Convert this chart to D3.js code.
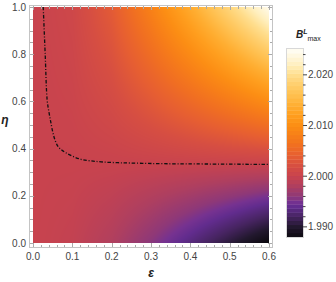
<!DOCTYPE html>
<html>
<head>
<meta charset="utf-8">
<style>
body { margin: 0; background: #fff; }
svg { display: block; }
text { font-family: "Liberation Sans", Arial, sans-serif; }
</style>
</head>
<body>
<svg width="336" height="282"></svg>
<script src="https://cdn.jsdelivr.net/npm/d3@7/dist/d3.min.js"></script>
<script>

// grid: rows = eta, columns = epsilon
var epsVals = [0, 0.1, 0.2, 0.3, 0.4, 0.5, 0.6];
var etaVals = [0, 0.1, 0.2, 0.3, 0.4, 0.5, 0.6, 0.7, 0.8, 0.9, 1.0];
var bGrid = [
  [2.0000, 1.99960, 1.99820, 1.99580, 1.99320, 1.99050, 1.98775],
  [2.0000, 1.99972, 1.99874, 1.99706, 1.99524, 1.99335, 1.99143],
  [2.0000, 1.99984, 1.99928, 1.99832, 1.99728, 1.99620, 1.99510],
  [2.0000, 1.99996, 1.99982, 1.99958, 1.99932, 1.99905, 1.99878],
  [2.0000, 2.00008, 2.00036, 2.00084, 2.00136, 2.00190, 2.00245],
  [2.0000, 2.00020, 2.00090, 2.00210, 2.00340, 2.00475, 2.00613],
  [2.0000, 2.00032, 2.00144, 2.00336, 2.00544, 2.00760, 2.00980],
  [2.0000, 2.00044, 2.00198, 2.00462, 2.00748, 2.01045, 2.01348],
  [2.0000, 2.00056, 2.00252, 2.00588, 2.00952, 2.01330, 2.01715],
  [2.0000, 2.00068, 2.00306, 2.00714, 2.01156, 2.01615, 2.02083],
  [2.0000, 2.00080, 2.00360, 2.00840, 2.01360, 2.01900, 2.02450]
];

// dash-dot curve (epsilon, eta)
var curveEps = [0.026, 0.031, 0.036, 0.041, 0.045, 0.050, 0.056, 0.064, 0.073, 0.086, 0.107, 0.128, 0.153, 0.179, 0.221, 0.272, 0.331, 0.416, 0.6];
var curveEta = [1.0, 0.8, 0.606, 0.55, 0.514, 0.472, 0.436, 0.408, 0.394, 0.380, 0.363, 0.352, 0.347, 0.343, 0.340, 0.338, 0.336, 0.335, 0.333];

var xTicks = [0, 0.1, 0.2, 0.3, 0.4, 0.5, 0.6];
var yTicks = [0, 0.2, 0.4, 0.6, 0.8, 1.0];
var barTicks = [1.99, 2.00, 2.01, 2.02];
var barRange = [1.988, 2.0251];

// sunset-like colour stops
var colorVals = [1.988, 1.990, 1.992, 1.994, 1.995, 1.996, 1.998, 2.000, 2.002, 2.004, 2.006, 2.008, 2.010, 2.012, 2.014, 2.016, 2.018, 2.020, 2.022, 2.025];
var colorHex = ["#0d0a10", "#22182e", "#462460", "#622c8e", "#763290", "#8e3878", "#ae3f60", "#c8434e", "#d64e42", "#e65e32", "#f06e22", "#f77e18", "#fc8e14", "#ff9e1e", "#ffae32", "#ffbf4e", "#ffce6c", "#ffde8e", "#ffefbe", "#fffdf6"];

var svg = d3.select("svg");

var x = d3.scaleLinear().domain([0, 0.6]).range([33, 269]),
    y = d3.scaleLinear().domain([0, 1]).range([243, 7]),
    color = d3.scaleLinear().domain(colorVals).range(colorHex).clamp(true);

function lookup(e, h) {
  var i = Math.min(Math.max(d3.bisectRight(epsVals, e) - 1, 0), epsVals.length - 2),
      j = Math.min(Math.max(d3.bisectRight(etaVals, h) - 1, 0), etaVals.length - 2);
  var tx = (e - epsVals[i]) / (epsVals[i + 1] - epsVals[i]),
      ty = (h - etaVals[j]) / (etaVals[j + 1] - etaVals[j]);
  var a = bGrid[j][i], b = bGrid[j][i + 1], c = bGrid[j + 1][i], d = bGrid[j + 1][i + 1];
  return (a * (1 - tx) + b * tx) * (1 - ty) + (c * (1 - tx) + d * tx) * ty;
}

// raster of the density plot
var pw = x.range()[1] - x.range()[0], ph = y.range()[0] - y.range()[1];
var canvas = document.createElement("canvas");
canvas.width = pw; canvas.height = ph;
var ctx = canvas.getContext("2d");
var img = ctx.createImageData(pw, ph);
for (var r = 0; r < ph; r++) {
  for (var q = 0; q < pw; q++) {
    var e = x.invert(x.range()[0] + q + 0.5),
        h = y.invert(y.range()[1] + r + 0.5);
    var c = d3.rgb(color(lookup(e, h)));
    var k = (r * pw + q) * 4;
    img.data[k] = c.r; img.data[k + 1] = c.g; img.data[k + 2] = c.b; img.data[k + 3] = 255;
  }
}
ctx.putImageData(img, 0, 0);

svg.append("image")
    .attr("x", x.range()[0]).attr("y", y.range()[1])
    .attr("width", pw).attr("height", ph)
    .attr("preserveAspectRatio", "none")
    .attr("href", canvas.toDataURL());

// contour line
var line = d3.line()
    .curve(d3.curveCatmullRom)
    .x(function(d) { return x(d[0]); })
    .y(function(d) { return y(d[1]); });

svg.append("path")
    .datum(d3.zip(curveEps, curveEta))
    .attr("d", line)
    .attr("fill", "none")
    .attr("stroke", "#111")
    .attr("stroke-width", 1.3)
    .attr("stroke-dasharray", "3.5,1.8,1,1.8");

// frame
var fx0 = 29, fx1 = 272, fy0 = 5, fy1 = 247;
svg.append("rect")
    .attr("x", fx0 + 0.5).attr("y", fy0 + 0.5)
    .attr("width", fx1 - fx0).attr("height", fy1 - fy0)
    .attr("fill", "none").attr("stroke", "#c4c4c4");

var tickCol = "#aaa";
var g = svg.append("g").attr("stroke", tickCol).attr("shape-rendering", "crispEdges");
d3.range(0, 0.6001, 0.02).forEach(function(v) {
  var major = Math.abs(v * 10 - Math.round(v * 10)) < 1e-6, L = major ? 4 : 2.5, px = Math.round(x(v)) + 0.5;
  g.append("line").attr("x1", px).attr("x2", px).attr("y1", fy1).attr("y2", fy1 - L);
  g.append("line").attr("x1", px).attr("x2", px).attr("y1", fy0 + 1).attr("y2", fy0 + 1 + L);
});
d3.range(0, 1.0001, 0.05).forEach(function(v) {
  var major = Math.abs(v * 5 - Math.round(v * 5)) < 1e-6, L = major ? 4 : 2.5, py = Math.round(y(v)) + 0.5;
  g.append("line").attr("y1", py).attr("y2", py).attr("x1", fx0 + 1).attr("x2", fx0 + 1 + L);
  g.append("line").attr("y1", py).attr("y2", py).attr("x1", fx1).attr("x2", fx1 - L);
});

svg.append("g").selectAll("text").data(xTicks).enter().append("text")
    .attr("x", function(d) { return x(d); })
    .attr("y", 260)
    .attr("text-anchor", "middle")
    .attr("font-size", 10).attr("fill", "#444")
    .text(d3.format(".1f"));

svg.append("g").selectAll("text").data(yTicks).enter().append("text")
    .attr("x", 26)
    .attr("y", function(d) { return y(d) + 3.5; })
    .attr("text-anchor", "end")
    .attr("font-size", 10).attr("fill", "#444")
    .text(d3.format(".1f"));

svg.append("text")
    .attr("x", 151).attr("y", 277)
    .attr("text-anchor", "middle")
    .attr("font-size", 12).attr("font-weight", "bold").attr("font-style", "italic")
    .attr("fill", "#222")
    .text("ε");

svg.append("text")
    .attr("x", 5).attr("y", 124)
    .attr("text-anchor", "middle")
    .attr("font-size", 12).attr("font-weight", "bold").attr("font-style", "italic")
    .attr("fill", "#222")
    .text("η");

// colour bar legend
var bx = 287, bw = 16;
var cb = d3.scaleLinear().domain(barRange).range([237, 49]);
var nBands = 46, step = (barRange[1] - barRange[0]) / nBands;
svg.append("g").selectAll("rect").data(d3.range(nBands)).enter().append("rect")
    .attr("x", bx)
    .attr("y", function(i) { return cb(barRange[0] + (i + 1) * step); })
    .attr("width", bw)
    .attr("height", function(i) { return cb(barRange[0] + i * step) - cb(barRange[0] + (i + 1) * step) + 0.4; })
    .attr("fill", function(i) { return color(barRange[0] + (i + 0.5) * step); });

svg.append("rect")
    .attr("x", bx - 0.5).attr("y", cb(barRange[1]) - 0.5)
    .attr("width", bw + 1).attr("height", cb(barRange[0]) - cb(barRange[1]) + 1)
    .attr("fill", "none").attr("stroke", "#d8d8d8");

var tg = svg.append("g").attr("stroke", "#444");
d3.range(1.990, 2.0245, 0.002).forEach(function(v) {
  var major = barTicks.some(function(t) { return Math.abs(t - v) < 1e-6; });
  tg.append("line")
      .attr("x1", bx + bw).attr("x2", bx + bw + (major ? 4 : 2.5))
      .attr("y1", cb(v)).attr("y2", cb(v));
});

svg.append("g").selectAll("text").data(barTicks).enter().append("text")
    .attr("x", bx + bw + 5)
    .attr("y", function(d) { return cb(d) + 3.5; })
    .attr("font-size", 10).attr("fill", "#444")
    .text(d3.format(".3f"));

var title = svg.append("text").attr("x", 296).attr("y", 38).attr("fill", "#222");
title.append("tspan").attr("font-size", 10).attr("font-weight", "bold").attr("font-style", "italic").text("B");
title.append("tspan").attr("font-size", 7).attr("font-weight", "bold").attr("font-style", "italic").attr("dy", -4).text("L");
title.append("tspan").attr("font-size", 7).attr("dy", 7).text("max");

</script>
</body>
</html>
